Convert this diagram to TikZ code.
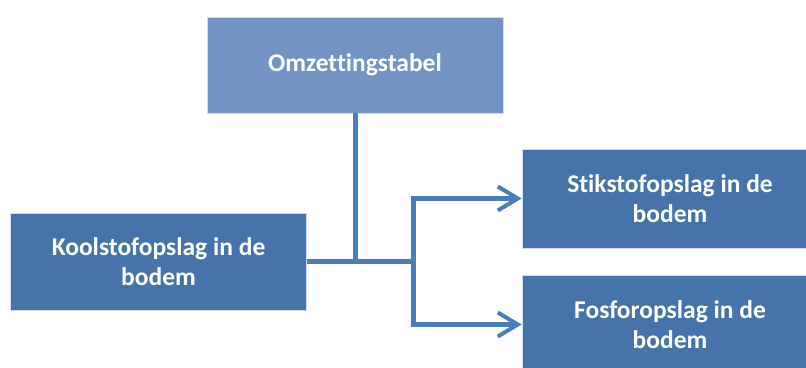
\documentclass[tikz,border=0pt]{standalone}
\usepackage{xcolor}
\usepackage{fontspec}
\setmainfont{Carlito}[Ligatures=NoCommon]
\usetikzlibrary{arrows.meta, positioning}

\definecolor{boxblue}{RGB}{70,116,170}
\definecolor{topblue}{RGB}{114,147,196}
\definecolor{linkblue}{RGB}{74,126,187}

\begin{document}
\begin{tikzpicture}[
    x=1pt, y=1pt,
    stepbox/.style = {rectangle, draw=white!75!boxblue, line width=0.6pt, fill=boxblue, text=white, align=center,
                      minimum width=296pt, minimum height=98pt, inner sep=0pt,
                      font=\fontsize{25.5}{30}\selectfont\bfseries},
    link/.style = {draw=linkblue, line width=5pt},
    tip/.style = {-{Straight Barb[length=20pt, width=24pt, line width=4pt]}}
]
\useasboundingbox (0,0) rectangle (806,367);
\clip (0,0) rectangle (806,367);

\node [stepbox, fill=topblue, minimum height=96pt] (omz) at (355, 302) {Omzettingstabel};

\node [stepbox, minimum height=97pt] (kool) at (158.5, 105.5) {Koolstofopslag in de\\bodem};

\node [stepbox, minimum height=99pt] (stik) at (670, 168.5) {Stikstofopslag in de\\bodem};
\node [stepbox, minimum height=99pt] (fosf) at (670, 42.5) {Fosforopslag in de\\bodem};

\coordinate (split) at (413, 105.5);

\draw[link] (omz.south) -- (omz.south |- kool.east);
\draw[link] (kool.east) -- (split);
\draw[link, tip] (split) |- (stik.west);
\draw[link, tip] (split) |- (fosf.west);

\end{tikzpicture}
\end{document}
